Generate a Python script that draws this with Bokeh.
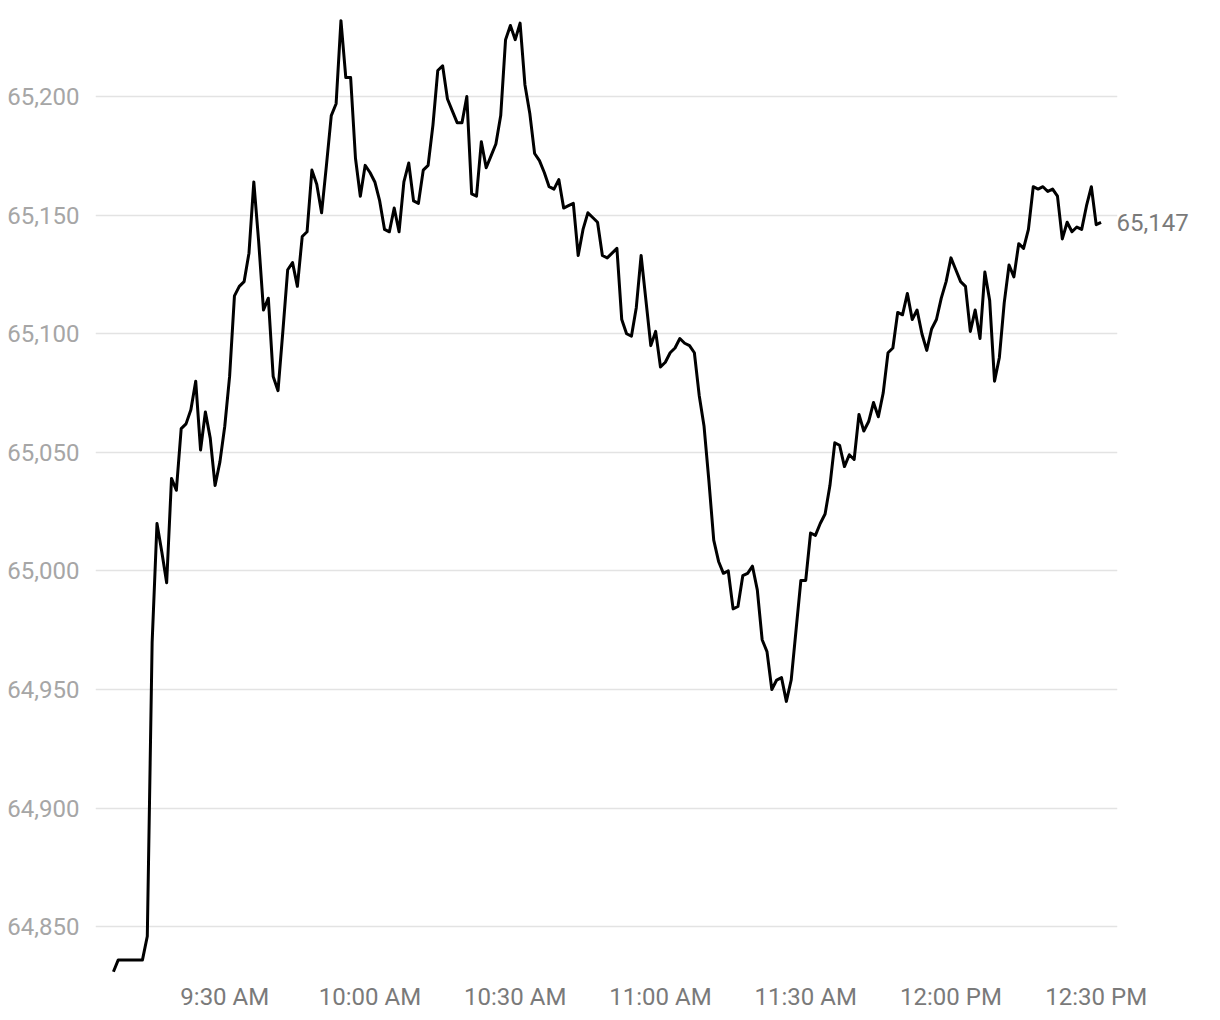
from bokeh.plotting import figure
from bokeh.models import Range1d, FixedTicker, LinearAxis, NumeralTickFormatter
from bokeh.embed import file_html
from bokeh.resources import INLINE

# minutes since midnight, one point per minute from 9:07 AM
start_minute = 547
prices = [
    64831, 64836, 64836, 64836, 64836, 64836, 64836, 64846, 64970, 65020,
    65008, 64995, 65039, 65034, 65060, 65062, 65068, 65080, 65051, 65067,
    65056, 65036, 65046, 65061, 65082, 65116, 65120, 65122, 65134, 65164,
    65139, 65110, 65115, 65082, 65076, 65101, 65127, 65130, 65120, 65141,
    65143, 65169, 65163, 65151, 65171, 65192, 65197, 65232, 65208, 65208,
    65174, 65158, 65171, 65168, 65164, 65156, 65144, 65143, 65153, 65143,
    65164, 65172, 65156, 65155, 65169, 65171, 65188, 65211, 65213, 65199,
    65194, 65189, 65189, 65200, 65159, 65158, 65181, 65170, 65175, 65180,
    65192, 65224, 65230, 65224, 65231, 65205, 65193, 65176, 65173, 65168,
    65162, 65161, 65165, 65153, 65154, 65155, 65133, 65144, 65151, 65149,
    65147, 65133, 65132, 65134, 65136, 65106, 65100, 65099, 65111, 65133,
    65114, 65095, 65101, 65086, 65088, 65092, 65094, 65098, 65096, 65095,
    65092, 65074, 65061, 65038, 65013, 65004, 64999, 65000, 64984, 64985,
    64998, 64999, 65002, 64992, 64971, 64966, 64950, 64954, 64955, 64945,
    64954, 64975, 64996, 64996, 65016, 65015, 65020, 65024, 65036, 65054,
    65053, 65044, 65049, 65047, 65066, 65059, 65063, 65071, 65065, 65075,
    65092, 65094, 65109, 65108, 65117, 65106, 65110, 65100, 65093, 65102,
    65106, 65115, 65122, 65132, 65127, 65122, 65120, 65101, 65110, 65098,
    65126, 65114, 65080, 65090, 65113, 65129, 65124, 65138, 65136, 65144,
    65162, 65161, 65162, 65160, 65161, 65158, 65140, 65147, 65143, 65145,
    65144, 65154, 65162, 65146, 65147,
]
minutes = [start_minute + i for i in range(len(prices))]

y_ticks = [64850, 64900, 64950, 65000, 65050, 65100, 65150, 65200]
x_tick_minutes = [570, 600, 630, 660, 690, 720, 750]
x_tick_labels = ["9:30 AM", "10:00 AM", "10:30 AM", "11:00 AM", "11:30 AM", "12:00 PM", "12:30 PM"]

FONT = "Roboto"

p = figure(
    width=1212, height=1020,
    output_backend="svg", toolbar_location=None,
    x_range=Range1d(543.3, 754.4),
    y_range=Range1d(64829.0, 65236.3),
    min_border_left=95, min_border_right=95,
    min_border_top=10, min_border_bottom=44,
)
p.outline_line_color = None
p.background_fill_color = "white"
p.border_fill_color = "white"

p.line(minutes, prices, line_color="black", line_width=3, line_join="round")

# Y axis (left)
p.yaxis.ticker = FixedTicker(ticks=y_ticks)
p.yaxis.formatter = NumeralTickFormatter(format="0,0")
p.yaxis.axis_line_color = None
p.yaxis.major_tick_line_color = None
p.yaxis.minor_tick_line_color = None
p.yaxis.major_label_text_font = FONT
p.yaxis.major_label_text_font_size = "24px"
p.yaxis.major_label_text_color = "#a6a6a6"
p.yaxis.major_label_standoff = 10

# X axis (bottom)
p.xaxis.ticker = FixedTicker(ticks=x_tick_minutes)
p.xaxis.major_label_overrides = {m: l for m, l in zip(x_tick_minutes, x_tick_labels)}
p.xaxis.axis_line_color = None
p.xaxis.major_tick_line_color = None
p.xaxis.minor_tick_line_color = None
p.xaxis.major_label_text_font = FONT
p.xaxis.major_label_text_font_size = "24px"
p.xaxis.major_label_text_color = "#7a7a7a"
p.xaxis.major_label_standoff = 0

# Right axis showing last value
last = prices[-1]
right = LinearAxis(ticker=FixedTicker(ticks=[last]), formatter=NumeralTickFormatter(format="0,0"))
right.axis_line_color = None
right.major_tick_line_color = None
right.minor_tick_line_color = None
right.major_label_text_font = FONT
right.major_label_text_font_size = "24px"
right.major_label_text_color = "#7a7a7a"
right.major_label_standoff = -7
p.add_layout(right, "right")

p.xgrid.grid_line_color = None
p.ygrid.ticker = FixedTicker(ticks=y_ticks)
p.ygrid.grid_line_color = "#e3e3e3"
p.ygrid.grid_line_width = 1.5

open("out.html", "w").write(file_html(p, INLINE))
